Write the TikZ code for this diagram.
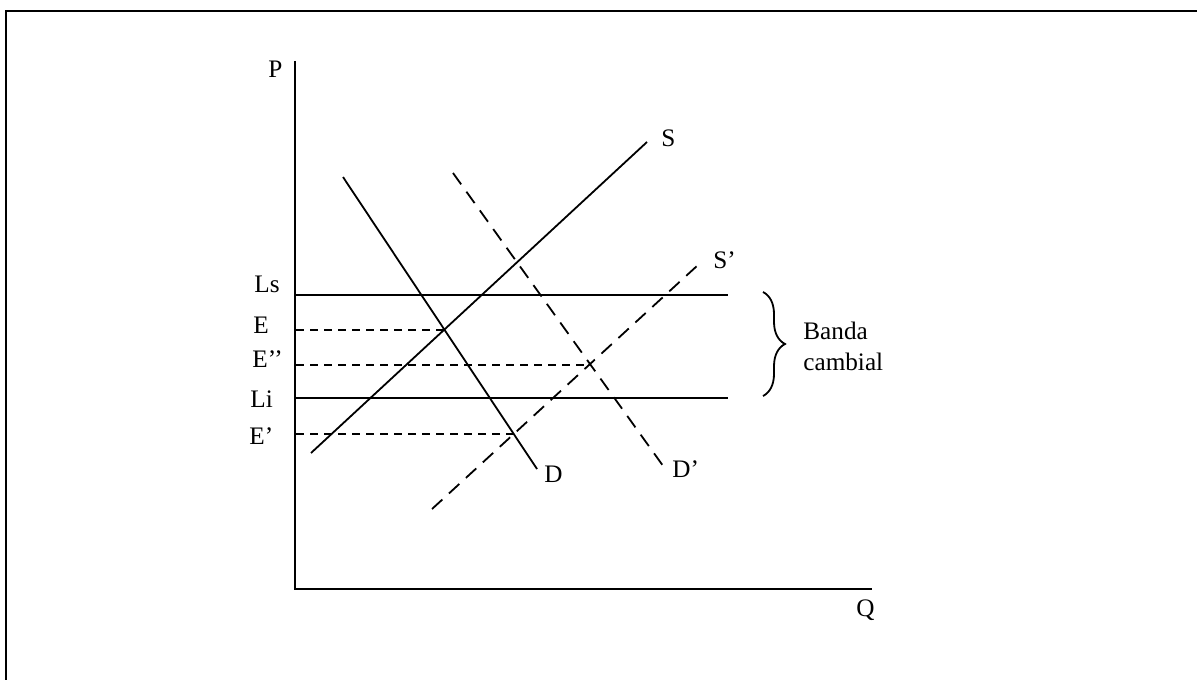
\documentclass[tikz,border=0pt]{standalone}
\usepackage{fontspec}
\setmainfont{Liberation Serif}
\usetikzlibrary{decorations.pathreplacing}
\begin{document}
\begin{tikzpicture}[x=0.5pt,y=-0.5pt,
  lbl/.style={inner sep=0pt,anchor=base west,font=\fontsize{12.6}{15}\selectfont},
  axisline/.style={line width=1pt},
  curve/.style={line width=0.9pt},
  curvedash/.style={line width=0.9pt,dash pattern=on 7pt off 4.5pt},
  guide/.style={line width=0.9pt,dash pattern=on 4.2pt off 2.8pt},
  frame/.style={line width=1.2pt}]
\useasboundingbox (0,0) rectangle (1197,679);
% frame (cut by the page on the right and bottom)
\draw[frame] (6,690) -- (6,11) -- (1205,11);
% axes
\coordinate (O) at (295,589);
\coordinate (Ptop) at (295,61);
\coordinate (Qend) at (872,589);
\draw[axisline] (Ptop) -- (O) -- (Qend);
\node[lbl] (P) at (268,78) {P};
\node[lbl] (Q) at (856,616) {Q};
% band limits
\coordinate (Ls0) at (296,295); \coordinate (Ls1) at (728,295);
\coordinate (Li0) at (296,398); \coordinate (Li1) at (728,398);
\draw[curve] (Ls0) -- (Ls1);
\draw[curve] (Li0) -- (Li1);
% curves
\coordinate (S0) at (311,453); \coordinate (S1) at (647,142);
\coordinate (D0) at (343,177); \coordinate (D1) at (537,469);
\coordinate (Dp0) at (453,173); \coordinate (Dp1) at (666,470);
\coordinate (Sp0) at (432,509); \coordinate (Sp1) at (698,265);
\draw[curve] (S0) -- (S1);
\draw[curve] (D0) -- (D1);
\draw[curvedash] (Dp0) -- (Dp1);
\draw[curvedash] (Sp0) -- (Sp1);
% equilibrium guides
\coordinate (E0) at (296,330); \coordinate (E1) at (445,330);
\coordinate (Epp0) at (296,365); \coordinate (Epp1) at (590,365);
\coordinate (Ep0) at (296,434); \coordinate (Ep1) at (514,434);
\draw[guide] (E0) -- (E1);
\draw[guide] (Epp0) -- (Epp1);
\draw[guide] (Ep0) -- (Ep1);
% labels
\node[lbl] (Ls) at (254,292) {Ls};
\node[lbl] (E) at (253,333) {E};
\node[lbl] (Epp) at (252,367) {E’’};
\node[lbl] (Li) at (250,407) {Li};
\node[lbl] (Ep) at (249,444) {E’};
\node[lbl] (S) at (661,147) {S};
\node[lbl] (Sp) at (713,268) {S’};
\node[lbl] (D) at (544,482) {D};
\node[lbl] (Dp) at (672,477) {D’};
% brace
\coordinate (B0) at (763,292); \coordinate (B1) at (763,396);
\draw[curve,decorate,decoration={brace,amplitude=11pt}] (B0) -- (B1);
\node[lbl] (Banda) at (803,339) {Banda};
\node[lbl] (cambial) at (803,370) {cambial};
\end{tikzpicture}
\end{document}
